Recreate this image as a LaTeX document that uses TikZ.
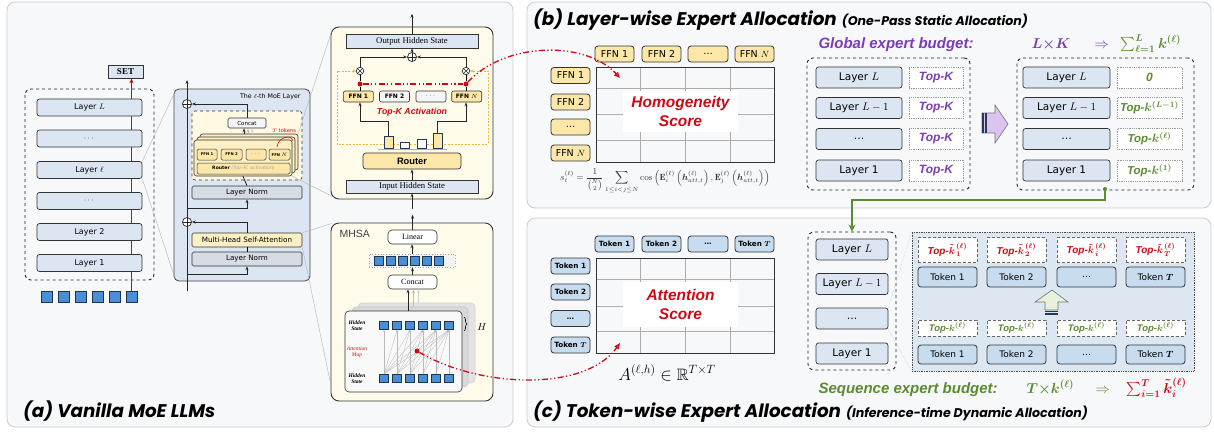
\documentclass[tikz,border=0pt]{standalone}
\usepackage{fontspec}
\usepackage{amsmath,amssymb}
\usetikzlibrary{arrows.meta,decorations.pathreplacing,calc}
\newfontfamily\dv{DejaVu Sans}
\newfontfamily\ar{Liberation Sans}
\newfontfamily\tm{Liberation Serif}
\newfontfamily\pp{Poppins}
\newcommand{\fs}[1]{\fontsize{#1}{#1}\selectfont}
\definecolor{panelbg}{HTML}{F7F8FA}
\definecolor{panelbd}{HTML}{C9CCD1}
\definecolor{lblue}{HTML}{DCE6F2}
\definecolor{tokblue}{HTML}{C8DCF0}
\definecolor{sqblue}{HTML}{4A8FD6}
\definecolor{sqbd}{HTML}{1E3550}
\definecolor{yel}{HTML}{FCE7A8}
\definecolor{yelb}{HTML}{FDEFC4}
\definecolor{ylight}{HTML}{FFFBEA}
\definecolor{ylight2}{HTML}{FFF8E3}
\definecolor{lngray}{HTML}{D6DCE4}
\definecolor{myred}{HTML}{CC0A14}
\definecolor{mypurple}{HTML}{7A3DB8}
\definecolor{mygreen}{HTML}{5B8B2E}
\definecolor{orng}{HTML}{F2B33D}
\definecolor{regblue}{HTML}{DDE7F1}
\definecolor{purpl}{HTML}{DDC4EE}
\definecolor{greenl}{HTML}{E8F2DA}
\definecolor{navy}{HTML}{24385C}
\tikzset{
 panel/.style={draw=panelbd, fill=panelbg, rounded corners=8pt, line width=0.8pt},
 dbox/.style={draw=black!85, dashed, rounded corners=6pt, line width=0.9pt, inner sep=0},
 lay/.style={draw=black!80, fill=lblue, rounded corners=2.5pt, line width=0.7pt, inner sep=0},
 laya/.style={lay, minimum width=105pt, minimum height=17pt, font=\dv\fs{8}},
 layb/.style={lay, minimum height=21pt, font=\dv\fs{10.5}},
 sq/.style={draw=sqbd, fill=sqblue, inner sep=0, line width=0.6pt},
 arr/.style={-{Stealth[length=4pt,width=3pt]}, line width=0.7pt, draw=black!85},
 arrg/.style={arr, draw=gray!55},
 zl/.style={draw=gray!60, line width=0.4pt},
 ln/.style={draw=black!80, fill=lngray, rounded corners=1.5pt, minimum width=110pt, inner sep=0, line width=0.6pt, font=\dv\fs{7.2}},
 oplus/.style={circle, draw=black!85, fill=white, minimum size=9pt, inner sep=0, line width=0.7pt,
   path picture={\draw[line width=0.6pt] (path picture bounding box.north) -- (path picture bounding box.south) (path picture bounding box.west) -- (path picture bounding box.east);}},
 otimes/.style={circle, draw=black!85, fill=white, minimum size=7.5pt, inner sep=0, line width=0.7pt,
   path picture={\draw[line width=0.6pt] (path picture bounding box.north west) -- (path picture bounding box.south east) (path picture bounding box.north east) -- (path picture bounding box.south west);}},
 rdot/.style={circle, fill=myred, minimum size=5pt, inner sep=0},
 reddash/.style={draw=myred, line width=1.3pt, dash pattern=on 6pt off 2.5pt on 1.2pt off 2.5pt on 1.2pt off 2.5pt},
 card/.style={draw=black!80, fill=yelb, rounded corners=2.5pt, line width=0.6pt},
 ffns/.style={draw=black!80, fill=yel, rounded corners=1.5pt, inner sep=0, minimum height=11pt, line width=0.5pt, font=\dv\bfseries\fs{3.8}},
 hs/.style={draw=black!80, fill=lblue, minimum width=132pt, inner sep=0, line width=0.6pt, font=\tm\fs{8.7}},
 det/.style={draw=black!80, fill=ylight, rounded corners=8pt, line width=0.9pt, inner sep=0},
 ffnd/.style={draw=black!80, rounded corners=2pt, minimum width=30pt, minimum height=11pt, inner sep=0, line width=0.6pt, font=\dv\bfseries\fs{6}},
 bar/.style={draw=navy, line width=0.8pt, inner sep=0, minimum width=9pt, anchor=south},
 lin/.style={draw=black!80, fill=white, rounded corners=4pt, minimum width=49pt, minimum height=14pt, inner sep=0, line width=0.6pt, font=\tm\fs{8}},
 card2/.style={rounded corners=4pt, line width=0.6pt},
 hsl/.style={font=\tm\bfseries\itshape\fs{5.5}, align=center},
 ffnb/.style={draw=black!80, fill=yel, rounded corners=3pt, minimum width=39pt, minimum height=16pt, inner sep=0, line width=0.8pt, font=\dv\fs{9.5}},
 tkb/.style={draw=gray!80, densely dotted, fill=white, minimum width=54pt, minimum height=21pt, inner sep=0, line width=0.8pt, font=\ar\bfseries\itshape\fs{12}},
 gridl/.style={draw=gray!65, line width=0.8pt},
 tok/.style={draw=black!80, fill=tokblue, rounded corners=3pt, minimum width=39pt, minimum height=16pt, inner sep=0, line width=0.8pt, font=\dv\bfseries\fs{7.2}},
 tok2/.style={draw=black!80, fill=tokblue, rounded corners=3pt, minimum width=59pt, inner sep=0, line width=0.8pt, font=\dv\fs{9}},
 kt/.style={draw=black!60, densely dashed, fill=white, minimum width=59pt, inner sep=0, line width=0.7pt},
 ttl/.style={anchor=base west, inner sep=0, font=\pp\bfseries\itshape\fs{18.3}},
}
\newcommand{\subt}[1]{\hspace{5pt}{\fs{12.6}#1}}
\begin{document}
\begin{tikzpicture}[x=1pt,y=-1pt]
\useasboundingbox (0,0) rectangle (1214,432);
% panels
\draw[panel] (7,2) rectangle (513,427);
\draw[panel] (527,2) rectangle (1211,208);
\draw[panel] (527,218) rectangle (1211,427);

%% ---------- panel (a)
\node[ttl] at (23,417) {(a) Vanilla MoE LLMs};
\draw[dbox] (25,89) rectangle (154,280);
\foreach \k/\x in {1/46.5,2/63.5,3/80.5,4/97.5,5/114.5,6/131.5}
  \node[sq, minimum size=11pt] (t\k) at (\x,297) {};
\node[draw=black!80, fill=lblue, minimum width=35pt, minimum height=13pt, inner sep=0, line width=0.7pt, font=\tm\bfseries\fs{9}] (set) at (125.5,71.5) {SET};
\draw[myred, line width=1pt, -{Stealth[length=5pt,width=4pt]}] (t6.north) -- (t6.north |- set.south);
\node[laya] (aL) at (89.5,107.5) {Layer $L$};
\node[laya] (ad1) at (89.5,138.5) {$\cdots$};
\node[laya] (al) at (89.5,170) {Layer $\ell$};
\node[laya] (ad2) at (89.5,201) {$\cdots$};
\node[laya] (a2) at (89.5,232) {Layer 2};
\node[laya] (a1) at (89.5,263) {Layer 1};

% MoE layer
\node[draw=black!75, fill=lblue, rounded corners=5pt, minimum width=136pt, minimum height=192pt, line width=0.8pt, inner sep=0] (moe) at (242,185) {};
\node[font=\dv\fs{6.3}, anchor=east] at (304,97) {The $\ell$-th MoE Layer};
\coordinate (mbot) at (187,291);
\coordinate (mtop) at (187,80);
\draw[arr] (mbot) -- (mtop);
\node[oplus] (op1) at (187,104) {};
\node[oplus] (op2) at (187,222) {};
\node[draw=black!80, dashed, fill=ylight2, rounded corners=3pt, minimum width=110pt, minimum height=69pt, inner sep=0, line width=0.6pt] (moein) at (247,145.5) {};
\draw[card] (200,134) rectangle (298,170);
\draw[card] (197,137) rectangle (295,173);
\node[card, minimum width=98pt, minimum height=36pt, inner sep=0] (stk) at (243,158) {};
\node[ffns, minimum width=20pt] (sf1) at (207,154.5) {FFN 1};
\node[ffns, minimum width=21pt] (sf2) at (231.5,154.5) {FFN 2};
\node[ffns, minimum width=20pt] (sf3) at (256,154.5) {$\cdots$};
\node[ffns, minimum width=21pt] (sfN) at (279.5,154.5) {FFN $N$};
\node[ffns, minimum width=93pt, font=\dv\fs{4.6}] (srt) at (243.5,168.5) {\textbf{Router} {\color{gray!70}\itshape (Top-$K$ activation)}};
\node[draw=black!80, fill=gray!8, rounded corners=1.5pt, minimum width=38pt, minimum height=10pt, inner sep=0, line width=0.6pt, font=\dv\fs{5.5}] (sc) at (247,123) {Concat};
\draw[arr] ([xshift=-3pt,yshift=-6pt]sc.south) -- ([xshift=-3pt]sc.south);
\draw[arrg, draw=gray!55] ([xshift=1pt,yshift=-6pt]sc.south) -- ([xshift=1pt]sc.south);
\draw[arrg, draw=gray!35] ([xshift=5pt,yshift=-6pt]sc.south) -- ([xshift=5pt]sc.south);
\draw[arr] (sc.north) |- (op1.east);
\node[font=\dv\fs{5.2}, text=myred] (ttok) at (284,131) {$T$ tokens};
\draw[myred, line width=0.6pt] (277,147) .. controls (278,141) and (281,139) .. (285,137.5) .. controls (289,136) and (292,138) .. (293,141);
\node[ln, minimum height=13pt] (ln2) at (247,192.5) {Layer Norm};
\draw[line width=0.7pt] (ln2.north) -- (stk.south);
\draw[arr] (187,208) -| (ln2.south);
\node[ln, fill=yelb, minimum height=14pt] (mh) at (247,240) {Multi-Head Self-Attention};
\draw[arr] (mh.north) |- (op2.east);
\node[ln, minimum height=14pt] (ln1) at (247,259) {Layer Norm};
\draw[line width=0.7pt] (ln1.north) -- (mh.south);
\draw[arr] (187,274) -| (ln1.south);

% zoom lines
\draw[zl] (al.north east) -- ([shift={(1,4)}]moe.north west);
\draw[zl] (al.south east) -- ([shift={(1,-4)}]moe.south west);

%% MoE detail
\node[det, minimum width=162pt, minimum height=172pt] (moed) at (412,113) {};
\draw[zl] (298,134) -- ([shift={(2,2)}]moed.north west);
\draw[zl] (stk.south east) -- ([shift={(2,-3)}]moed.south west);
\node[hs, minimum height=14pt] (out) at (412,41) {Output Hidden State};
\node[hs, minimum height=13pt] (inp) at (412,186.5) {Input Hidden State};
\draw[arr] (out.north) -- ++(0,-20);
\draw[arr] (412,209) -- (inp.south);
\node[draw=black!80, fill=yel, rounded corners=3pt, minimum width=98pt, minimum height=16pt, inner sep=0, line width=0.7pt, font=\ar\bfseries\fs{9.3}] (rt) at (412,161) {Router};
\draw[arr] (inp.north) -- (rt.south);
\node[otimes] (ot1) at (360,71) {};
\node[otimes] (ot2) at (466,71) {};
\node[oplus] (op3) at (412,57) {};
\draw[orng, line width=0.8pt, dash pattern=on 2pt off 1.4pt, {Stealth[length=3.5pt,width=3pt]}-{Stealth[length=3.5pt,width=3pt]}] (ot1.west) -- (337,71) -- (337,144) -- (488,144) -- (488,71) -- (ot2.east);
\draw[gray!60, line width=1.2pt] (378,149.6) -- (447,149.6);
\node[bar, fill=yel, minimum height=12pt] (b1) at (388.5,149) {};
\node[bar, fill=white, minimum height=6pt] (b2) at (404.5,149) {};
\node[bar, fill=white, minimum height=9pt] (b3) at (421.5,149) {};
\node[bar, fill=yel, minimum height=15pt] (b4) at (437.5,149) {};
\node[ffnd, fill=yel] (f1) at (358.3,96.5) {FFN 1};
\node[ffnd, fill=gray!8] (f2) at (394.5,96.5) {FFN 2};
\node[ffnd, fill=gray!8, font=\dv\fs{6}] (f3) at (431,96.5) {$\cdots$};
\node[ffnd, fill=yel] (fN) at (466.7,96.5) {FFN $N$};
\node[rdot] (rd1) at (360,84) {};
\node[rdot] (rd2) at (466,84) {};
\draw[line width=0.7pt] (f1.north -| rd1) -- (rd1) -- (ot1.south);
\draw[line width=0.7pt] (fN.north -| rd2) -- (rd2) -- (ot2.south);
\draw[arr] (ot1.north) |- (op3.west);
\draw[arr] (ot2.north) |- (op3.east);
\draw[arr] (op3.north) -- (out.south);
\draw[reddash] (rd1) -- (rd2);
\draw[arr] (b1.north) -- ++(0,-15) -| (f1.south -| rd1);
\draw[arr] (b4.north) -- ++(0,-12) -| (fN.south -| rd2);
\node[font=\ar\bfseries\itshape\fs{8.8}, text=myred] at (412,112) {Top-K Activation};

%% MHSA detail
\node[det, minimum width=162pt, minimum height=178pt] (mhd) at (412,312) {};
\draw[zl] (mh.north east) -- ([shift={(1,1)}]mhd.north west);
\draw[zl] (mh.south east) -- ([shift={(1,-13)}]mhd.south west);
\node[anchor=west, font=\ar\fs{10.5}, text=black!75] at (336,234) {MHSA};
\node[lin] (lin) at (412.5,237) {Linear};
\draw[arr] (lin.north) -- ++(0,-15);
\node[draw=gray!70, dotted, fill=gray!10, minimum width=86pt, minimum height=13pt, inner sep=0, line width=0.7pt] (strip) at (412,260.5) {};
\foreach \k in {0,...,5} \node[sq, minimum size=9pt] at (379+12*\k,260.5) {};
\draw[arr] (strip.north) -- (strip.north |- lin.south);
\node[lin] (cc) at (412.5,282) {Concat};
\draw[arr] (cc.north) -- (cc.north |- strip.south);
\draw[card2, draw=gray!35, fill=gray!22] (358,303) rectangle (475,383);
\draw[card2, draw=gray!45, fill=gray!30] (352,307) rectangle (468,387);
\node[card2, draw=black!80, fill=gray!5, minimum width=117pt, minimum height=81pt, inner sep=0] (fr) at (403.5,351.5) {};
\draw[arr] ([xshift=-4.5pt]cc.south |- fr.north) -- ([xshift=-4.5pt]cc.south);
\draw[arrg, draw=gray!50] (413.5,307) -- ([xshift=1pt]cc.south);
\draw[arrg, draw=gray!35] (418.5,303) -- ([xshift=6pt]cc.south);
\foreach \k in {1,...,6} {
  \node[sq, minimum size=8.5pt] (ts\k) at (371+13*\k,325.5) {};
  \node[sq, minimum size=8.5pt] (bs\k) at (371+13*\k,378.5) {};
}
\foreach \i in {1,...,6}{\foreach \j in {\i,...,6}{
  \draw[gray!55, line width=0.3pt, -{Stealth[length=2pt,width=1.6pt]}] (bs\i.north) -- (ts\j.south);}}
\node[hsl] at (357,325.5) {Hidden\\[0.8pt]State};
\node[hsl] at (357,378.5) {Hidden\\[0.8pt]State};
\node[hsl, text=myred, font=\tm\itshape\fs{5.5}] at (357,352) {Attention\\[0.8pt]Map};
\node[rdot] (rd3) at (417,351) {};
\draw[decorate, decoration={brace, amplitude=3pt}, line width=0.6pt] (464,317) -- (464,331);
\node[font=\fs{10}] at (482,327) {$H$};

%% ---------- panel (b)
\node[ttl] at (533,25) {(b) Layer-wise Expert Allocation\subt{(One-Pass Static Allocation)}};
\node[ffnb] (bf1) at (614.5,54) {FFN 1};
\node[ffnb] (bf2) at (661.5,54) {FFN 2};
\node[ffnb, minimum width=40pt] (bf3) at (708,54) {…};
\node[ffnb] (bfN) at (754.5,54) {FFN $N$};
\node[ffnb] (lf1) at (570.5,75.5) {FFN 1};
\node[ffnb] (lf2) at (570.5,102) {FFN 2};
\node[ffnb] (lf3) at (570.5,127) {…};
\node[ffnb] (lfN) at (570.5,153) {FFN $N$};
\draw[gridl] (640.5,67) -- (640.5,162) (685,67) -- (685,162) (730,67) -- (730,162)
  (596,88.3) -- (774,88.3) (596,114.3) -- (774,114.3) (596,140) -- (774,140);
\node[draw=black!80, line width=1pt, minimum width=178pt, minimum height=95pt, inner sep=0] (gb) at (685,114.5) {};
\node[fill=white, minimum width=115pt, minimum height=41pt, inner sep=0, align=center, font=\ar\bfseries\itshape\fs{15.5}, text=myred] (hsc) at (680.5,111.5) {Homogeneity\\[3pt]Score};
\coordinate (hsT) at (620,78);
\draw[reddash, -{Triangle[open,length=6pt,width=5pt]}] (rd2) .. controls (505,42) and (585,40) .. (hsT);
\node[font=\fs{9}, text=black!80] (form) at (665,181) {$\displaystyle s_t^{(\ell)} = \frac{1}{\binom{N}{2}} \sum_{1\le i<j\le N} \cos\left(\mathbf{E}_i^{(\ell)}\left(\boldsymbol{h}_{att,t}^{(\ell)}\right),\mathbf{E}_j^{(\ell)}\left(\boldsymbol{h}_{att,t}^{(\ell)}\right)\right)$};

\node[anchor=base west, font=\ar\bfseries\itshape\fs{15}, text=mypurple] at (815,48) {Global expert budget:};
\node[anchor=base west, text=mypurple, font=\fs{14}] at (1028,48) {$\boldsymbol{L{\times}K}$};
\node[anchor=base west, text=mypurple, font=\fs{14}] at (1091,48) {$\Rightarrow$};
\node[anchor=base west, text=mygreen, font=\fs{14}] at (1117,48) {$\boldsymbol{\sum_{\ell=1}^{L} k^{(\ell)}}$};

\node[dbox, minimum width=163pt, minimum height=132pt] (lb) at (888.5,124) {};
\node[dbox, minimum width=177pt, minimum height=132pt] (rb) at (1105.5,124) {};
\node[layb, minimum width=86pt] (bL) at (859,77.5) {Layer $L$};
\node[layb, minimum width=86pt] (bL1) at (859,108) {Layer $L-1$};
\node[layb, minimum width=86pt] (bd) at (859,139) {…};
\node[layb, minimum width=86pt] (bl1) at (859,170.5) {Layer 1};
\foreach \n/\y in {1/77.5,2/108,3/139,4/170.5}
  \node[tkb, text=mypurple] (tk\n) at (936,\y) {Top-K};
\draw[fill=purpl, draw=black!55, line width=0.6pt] (982,113) -- (995,113) -- (995,105) -- (1008,124) -- (995,143) -- (995,133) -- (982,133) -- cycle;
\fill[navy] (981.7,113) rectangle (984,133);
\fill[navy] (985,113) rectangle (986.7,133);
\node[layb, minimum width=87pt] (rL) at (1066.5,77.5) {Layer $L$};
\node[layb, minimum width=87pt] (rL1) at (1066.5,108) {Layer $L-1$};
\node[layb, minimum width=87pt] (rd) at (1066.5,139) {…};
\node[layb, minimum width=87pt] (rl1) at (1066.5,170.5) {Layer 1};
\node[tkb, minimum width=65pt, text=mygreen] (v1) at (1149.5,77.5) {0};
\node[tkb, minimum width=65pt, text=mygreen, font=\ar\bfseries\itshape\fs{11.5}] (v2) at (1149.5,108) {Top-{\boldmath$k^{(L-1)}$}};
\node[tkb, minimum width=65pt, text=mygreen, font=\ar\bfseries\itshape\fs{11.5}] (v3) at (1149.5,139) {Top-{\boldmath$k^{(\ell)}$}};
\node[tkb, minimum width=65pt, text=mygreen, font=\ar\bfseries\itshape\fs{11.5}] (v4) at (1149.5,170.5) {Top-{\boldmath$k^{(1)}$}};

%% ---------- panel (c)
\node[ttl] at (533,417) {(c) Token-wise Expert Allocation\subt{(Inference-time Dynamic Allocation)}};
\node[tok] (ct1) at (614.5,244) {Token 1};
\node[tok] (ct2) at (661.5,244) {Token 2};
\node[tok, minimum width=40pt] (ct3) at (708,244) {…};
\node[tok] (ctT) at (754.5,244) {Token $\boldsymbol{T}$};
\node[tok] (cl1) at (570.5,266) {Token 1};
\node[tok] (cl2) at (570.5,292) {Token 2};
\node[tok] (cl3) at (570.5,318.5) {…};
\node[tok] (clT) at (570.5,345) {Token $\boldsymbol{T}$};
\draw[gridl] (640.5,258) -- (640.5,353) (685,258) -- (685,353) (730,258) -- (730,353)
  (596,279) -- (774,279) (596,306) -- (774,306) (596,331) -- (774,331);
\node[draw=black!80, line width=1pt, minimum width=178pt, minimum height=95pt, inner sep=0] (gc) at (685,305.5) {};
\node[fill=white, minimum width=115pt, minimum height=45pt, inner sep=0, align=center, font=\ar\bfseries\itshape\fs{15.5}, text=myred] (asc) at (680.5,304.5) {Attention\\[3pt]Score};
\coordinate (asT) at (620,343);
\draw[reddash, -{Triangle[open,length=6pt,width=5pt]}] (rd3) .. controls (480,388) and (585,392) .. (asT);
\node[font=\fs{16.5}, anchor=base, inner sep=0] (aform) at (667,380) {$A^{(\ell,h)}\in\mathbb{R}^{T\times T}$};

\node[dbox, minimum width=88pt, minimum height=138pt] (lc) at (852,301) {};
\node[layb, minimum width=72pt] (cL) at (852,249.5) {Layer $L$};
\node[layb, minimum width=72pt] (cL1) at (852,284) {Layer $L-1$};
\node[layb, minimum width=72pt] (cd) at (852,318.5) {…};
\node[layb, minimum width=72pt] (cl1b) at (852,353.5) {Layer 1};
\node[circle, fill=mygreen, inner sep=0, minimum size=4pt] (gdot) at (1105,189) {};
\draw[mygreen, line width=2.2pt, -{Stealth[length=7pt,width=7pt]}] (gdot) -- ++(0,11) -| (lc.north);

\node[draw=black!70, densely dotted, fill=regblue, minimum width=282pt, minimum height=139pt, inner sep=0, line width=0.7pt] (reg) at (1053,301.5) {};
\draw[zl, densely dotted] (cd.north east) -- (reg.north west);
\draw[zl, densely dotted] (cd.south east) -- (reg.south west);
\foreach \n/\x/\s in {1/947.5/1,2/1016.5/2,3/1086.5/i,4/1155.5/T}{
  \node[kt, minimum height=25pt, text=myred, font=\ar\bfseries\itshape\fs{10}] (k\n) at (\x,250) {Top-{\boldmath$\tilde{k}\kern1pt^{(\ell)}_{\s}$}};
  \node[kt, minimum height=16pt, text=mygreen, font=\ar\bfseries\itshape\fs{9.5}] (g\n) at (\x,328) {Top-{\boldmath$k^{(\ell)}$}};
}
\node[tok2, minimum height=20pt] (ra1) at (947.5,277) {Token 1};
\node[tok2, minimum height=20pt] (ra2) at (1016.5,277) {Token 2};
\node[tok2, minimum height=20pt] (ra3) at (1086.5,277) {…};
\node[tok2, minimum height=20pt] (ra4) at (1155.5,277) {Token $\boldsymbol{T}$};
\node[tok2, minimum height=19pt] (rb1) at (947.5,354.5) {Token 1};
\node[tok2, minimum height=19pt] (rb2) at (1016.5,354.5) {Token 2};
\node[tok2, minimum height=19pt] (rb3) at (1086.5,354.5) {…};
\node[tok2, minimum height=19pt] (rb4) at (1155.5,354.5) {Token $\boldsymbol{T}$};
\draw[fill=greenl, draw=black!55, line width=0.6pt] (1045,310) -- (1045,302) -- (1035,302) -- (1052,290) -- (1068,302) -- (1058,302) -- (1058,310) -- cycle;
\fill[navy] (1045,310.5) rectangle (1058,312);
\fill[navy] (1045,313.3) rectangle (1058,315);

\node[anchor=base west, font=\ar\bfseries\itshape\fs{15}, text=mygreen] at (815,393) {Sequence expert budget:};
\node[anchor=base west, text=mygreen, font=\fs{14}] at (1023,393) {$\boldsymbol{T{\times}k^{(\ell)}}$};
\node[anchor=base west, text=mygreen, font=\fs{14}] at (1092,393) {$\Rightarrow$};
\node[anchor=base west, text=myred, font=\fs{14}] at (1123,393) {$\boldsymbol{\sum_{i=1}^{T}\tilde{k}_i^{(\ell)}}$};
\end{tikzpicture}
\end{document}
